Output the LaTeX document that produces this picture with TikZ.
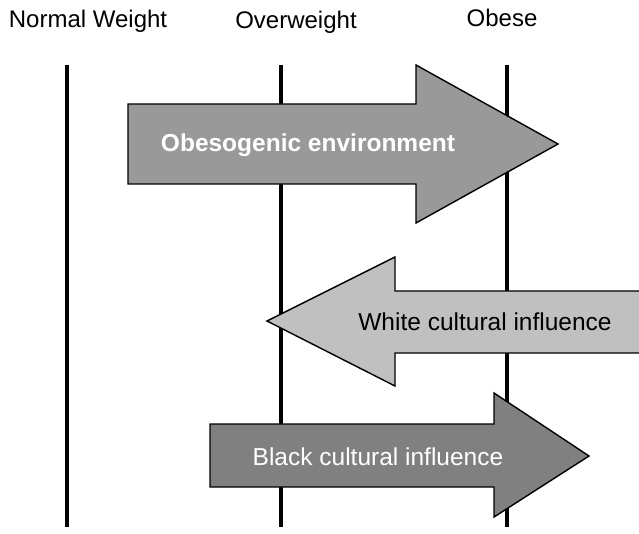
\documentclass[tikz,border=0pt]{standalone}
\usepackage{fontspec}
\setmainfont{Liberation Sans}
\definecolor{envgray}{RGB}{153,153,153}
\definecolor{whitegray}{RGB}{192,192,192}
\definecolor{blackgray}{RGB}{128,128,128}
\begin{document}
\begin{tikzpicture}[x=1pt, y=-1pt, line join=miter,
    weightline/.style={line width=4.5pt},
    blockarrow/.style={draw=black, line width=1.4pt},
    head/.style={inner sep=0pt, anchor=base, font=\fontsize{24}{28}\selectfont},
    lab/.style={inner sep=0pt, font=\fontsize{24.5}{28}\selectfont}]
  \useasboundingbox (0,0) rectangle (639,534);
  \node[head] (normal) at (88,28) {Normal Weight};
  \node[head] (over) at (296,29) {Overweight};
  \node[head] (obese) at (502,27) {Obese};
  \draw[weightline] (67,65) -- (67,527);
  \draw[weightline] (281,65) -- (281,527);
  \draw[weightline] (507,65) -- (507,527);
  % obesogenic environment
  \draw[blockarrow, fill=envgray] (128,104) -- (416,104) -- (416,65) -- (558,144)
    -- (416,223) -- (416,184) -- (128,184) -- cycle;
  \node[lab, text=white, font=\fontsize{24.5}{28}\selectfont\bfseries] (env) at (308,145) {Obesogenic environment};
  % white cultural influence
  \draw[blockarrow, fill=whitegray] (645,291) -- (395,291) -- (395,257) -- (267,321)
    -- (395,386) -- (395,353) -- (645,353);
  \node[lab] (white) at (485,322) {White cultural influence};
  % black cultural influence
  \draw[blockarrow, fill=blackgray] (210,424) -- (494,424) -- (494,393) -- (589,456)
    -- (494,517) -- (494,487) -- (210,487) -- cycle;
  \node[lab, text=white] (black) at (378,457) {Black cultural influence};
\end{tikzpicture}
\end{document}
